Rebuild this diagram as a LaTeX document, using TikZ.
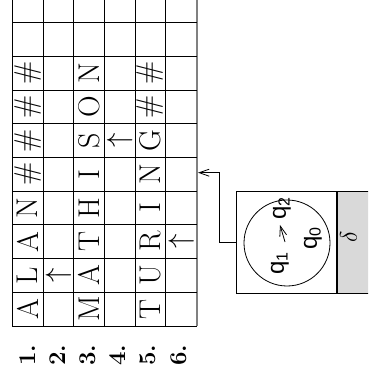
\documentclass[tikz,border=0pt]{standalone}
\usepackage{amsmath}
\usepackage{amssymb}
\usepackage{fontspec}
\newfontfamily\qfont{Liberation Sans}
\usetikzlibrary{arrows.meta}

\tikzset{
    tapesym/.style={rotate=90, inner sep=0pt, font=\fontsize{15}{18}\selectfont},
    rowlabel/.style={rotate=90, inner sep=0pt, font=\large\bfseries},
    qstate/.style={rotate=90, inner sep=0pt, font=\qfont\fontsize{12}{14}\selectfont},
    barb/.style={-{Straight Barb[length=5pt,width=3.5pt]}}
}

\begin{document}
\begin{tikzpicture}[x=0.5pt,y=-0.5pt]

\useasboundingbox (0,0) rectangle (368,383);
\clip (0,0) rectangle (368,383);

% Tapes
\foreach \i in {0,...,5}
    \draw (12.3+30.7*\i,-10) -- (12.3+30.7*\i,326);
\draw[gray, line width=0.8pt] (196.7,-10) -- (196.7,326);
\foreach \j in {0,...,9}
    \draw (12.3,326-33.7*\j) -- (196.7,326-33.7*\j);

% Tape contents
\foreach \s [count=\k] in {A,L,A,N,\#,\#,\#,\#}
    \node[tapesym] (a\k) at (27.65,342.85-33.7*\k) {\s};
\foreach \s [count=\k] in {M,A,T,H,I,S,O,N}
    \node[tapesym] (m\k) at (89.05,342.85-33.7*\k) {\s};
\foreach \s [count=\k] in {T,U,R,I,N,G,\#,\#}
    \node[tapesym] (t\k) at (150.45,342.85-33.7*\k) {\s};

% Heads
\node[tapesym] (head1) at (58.35,275.45) {$\uparrow$};
\node[tapesym] (head2) at (119.75,140.65) {$\uparrow$};
\node[tapesym] (head3) at (181.15,241.75) {$\uparrow$};

% Row numbers
\foreach \n in {1,...,6}
    \node[rowlabel] (lab\n) at (-2.75+30.2*\n,355) {\n.};

% Machine
\node[draw, inner sep=0pt, minimum width=50pt, minimum height=50.8pt] (machine) at (286.7,242.5) {};
\node[draw, fill=black!15, inner sep=0pt, anchor=north west,
      minimum width=20pt, minimum height=50.8pt] (table) at (machine.north east) {};
\node[rotate=90, font=\large] (delta) at (348.5,237) {$\delta$};

% Control
\node[draw, circle, inner sep=0pt, minimum size=43pt] (ctrl) at (287,243) {};
\node[qstate] (q2) at (282,208) {q\textsubscript{2}};
\node[qstate] (q0) at (313,238) {q\textsubscript{0}};
\node[qstate] (q1) at (280,263) {q\textsubscript{1}};
\draw[barb] ([shift={(5,-21)}]q1.center) -- ([shift={(0,-38)}]q1.center);

% Link to the tapes
\coordinate (tip) at (198,172.7);
\draw[barb] (machine.west) -- ++(-17.4,0) |- (tip);

\end{tikzpicture}
\end{document}
